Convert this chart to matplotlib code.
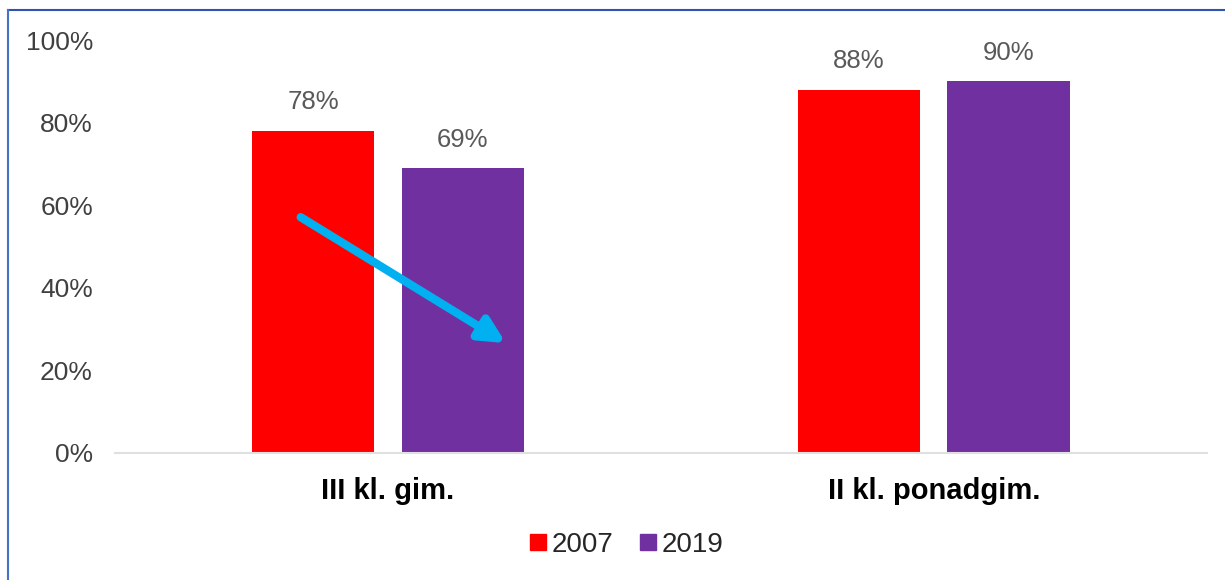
import numpy as np
import matplotlib.pyplot as plt
from matplotlib.lines import Line2D

plt.rcParams["font.family"] = ["Liberation Sans", "DejaVu Sans"]

categories = ["III kl. gim.", "II kl. ponadgim."]
years = ["2007", "2019"]
values_2007 = [78, 88]
values_2019 = [69, 90]
colors = ["#FF0000", "#7030A0"]

fig = plt.figure(figsize=(12.25, 5.8), dpi=100)
ax = fig.add_axes([0.094, 0.219, 0.891, 0.712])

x = np.arange(len(categories))
width = 0.224
offset = 0.137

for vals, col, sign, year in zip([values_2007, values_2019], colors, [-1, 1], years):
    bars = ax.bar(x + sign * offset, vals, width, color=col, label=year)
    for b, v in zip(bars, vals):
        ax.text(b.get_x() + b.get_width() / 2, v + 4, f"{v}%",
                ha="center", va="bottom", fontsize=18.5, color="#595959")

ax.set_xlim(-0.5, 1.5)
ax.set_ylim(0, 100)
ax.set_yticks(np.arange(0, 101, 20))
ax.set_yticklabels([f"{t}%" for t in range(0, 101, 20)], fontsize=19, color="#404040")
ax.set_xticks(x)
ax.set_xticklabels(categories, fontsize=21, fontweight="bold", color="#000000")
ax.tick_params(axis="both", length=0)
ax.tick_params(axis="y", pad=16)
ax.tick_params(axis="x", pad=17)

for s in ["top", "right", "left"]:
    ax.spines[s].set_visible(False)
ax.spines["bottom"].set_color("#E0E0E0")
ax.spines["bottom"].set_linewidth(1.5)

# trend arrow
ax.annotate("", xy=(0.216, 26.6), xytext=(-0.16, 57.1),
            arrowprops=dict(arrowstyle="-|>,head_length=1.5,head_width=0.75",
                            color="#00B0F0", lw=6, shrinkA=0, shrinkB=0))

handles = [Line2D([], [], marker="s", linestyle="none", markersize=11,
                  markerfacecolor=c, markeredgecolor=c) for c in colors]
fig.legend(handles, years, loc="center", bbox_to_anchor=(0.511, 0.06),
           ncol=2, frameon=False, fontsize=20, handletextpad=0.15,
           columnspacing=0.9, handlelength=0.7, labelcolor="#262626")

# frame line on top and left
fig.add_artist(Line2D([0.0065, 1.0], [0.983, 0.983], color="#2F52B4", lw=1.5,
                      transform=fig.transFigure))
fig.add_artist(Line2D([0.0065, 0.0065], [0.0, 0.983], color="#4472C4", lw=1.5,
                      transform=fig.transFigure))

fig.savefig("out.png", dpi=100)
